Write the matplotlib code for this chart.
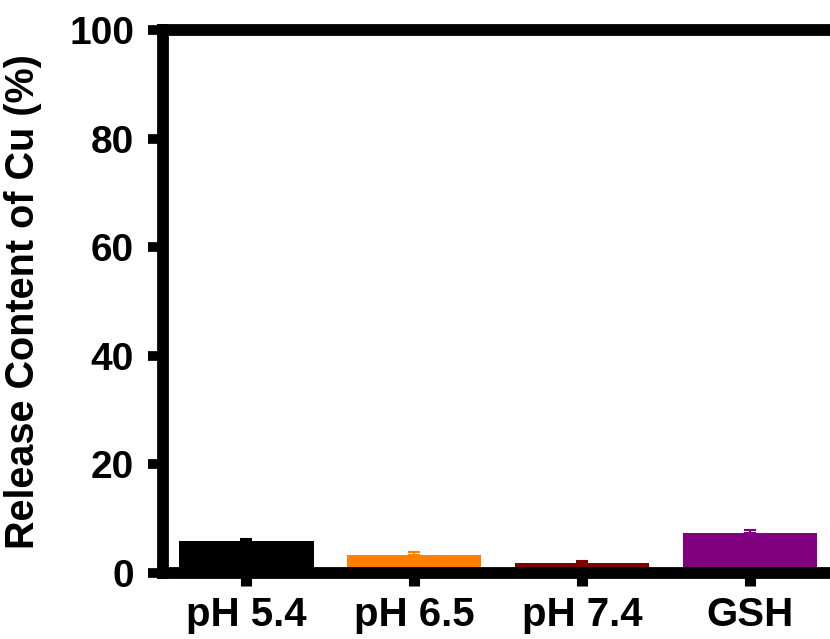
import matplotlib.pyplot as plt
import numpy as np

plt.rcParams['font.family'] = ['Liberation Sans', 'DejaVu Sans']
plt.rcParams['font.weight'] = 'bold'

# Cu release by condition
labels = ['pH 5.4', 'pH 6.5', 'pH 7.4', 'GSH']
release = [5.9, 3.4, 1.8, 7.4]
release_err = [0.4, 0.4, 0.5, 0.6]
colors = ['#000000', '#FF8000', '#800000', '#800080']

fig = plt.figure(figsize=(8.3, 6.39), dpi=100)
ax = fig.add_axes([0.1958, 0.1033, 0.809, 0.8498])

x = np.arange(len(labels))
for i in range(len(labels)):
    ax.bar(x[i], release[i], width=0.8, color=colors[i], zorder=2)
    ax.errorbar(x[i], release[i], yerr=[[0], [release_err[i]]], fmt='none',
                ecolor=colors[i], elinewidth=1.5, capsize=4, capthick=1.5, zorder=3)

ax.set_xlim(-0.5, 3.5)
ax.set_ylim(0, 100)
ax.set_yticks([0, 20, 40, 60, 80, 100])
ax.set_xticks(x)
ax.set_xticklabels(labels)

for s in ax.spines.values():
    s.set_linewidth(8.5)
ax.tick_params(axis='y', length=10.5, width=7, labelsize=28, pad=10)
ax.tick_params(axis='x', length=9.4, width=8, labelsize=29, pad=7)
for t in ax.get_xticklabels() + ax.get_yticklabels():
    t.set_fontweight('bold')

ax.set_ylabel('Release Content of Cu (%)', fontsize=28.5, fontweight='bold')
ax.yaxis.set_label_coords(-0.18, 0.5)

fig.savefig('out.png', dpi=100)
